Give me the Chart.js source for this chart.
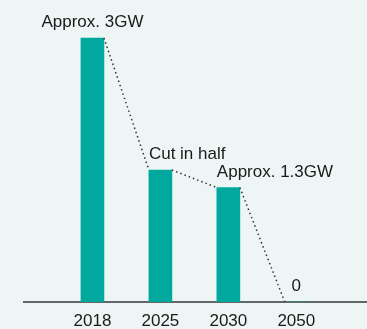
<!DOCTYPE html>
<html>
<head>
<meta charset="utf-8">
<script src="https://cdn.jsdelivr.net/npm/chart.js@4/dist/chart.umd.min.js"></script>
<style>
  html, body { margin: 0; padding: 0; background: #eef6f5; }
  #wrap { width: 367px; height: 329px; }
</style>
</head>
<body>
<div id="wrap"><canvas id="chart"></canvas></div>
<script>
// data
var years = ['2018', '2025', '2030', '2050'];
var capacity = [3, 1.5, 1.3, 0];
var notes = ['Approx. 3GW', 'Cut in half', 'Approx. 1.3GW', '0'];

// how each note sits over its bar
var noteAlign = ['center', 'left', 'left', 'center'];

var points = years.map(function (y, i) { return { x: i, y: capacity[i] }; });

// dotted line from the right corner of one bar to the left corner of the next
var dottedLink = {
    id: 'dottedLink',
    afterDatasetsDraw: function (chart) {
        var bars = chart.getDatasetMeta(0).data;
        var ctx = chart.ctx;
        ctx.save();
        ctx.strokeStyle = '#333';
        ctx.lineWidth = 1.5;
        ctx.setLineDash([1.5, 3]);
        for (var i = 0; i < bars.length - 1; i++) {
            var a = bars[i], b = bars[i + 1];
            ctx.beginPath();
            ctx.moveTo(a.x + a.width / 2, a.y);
            ctx.lineTo(b.x - b.width / 2, b.y);
            ctx.stroke();
        }
        ctx.restore();
    }
};

var barNotes = {
    id: 'barNotes',
    afterDraw: function (chart) {
        var bars = chart.getDatasetMeta(0).data;
        var ctx = chart.ctx;
        ctx.save();
        ctx.fillStyle = '#1a1a1a';
        ctx.font = '17px "Liberation Sans", Arial, sans-serif';
        ctx.textBaseline = 'alphabetic';
        bars.forEach(function (bar, i) {
            ctx.textAlign = noteAlign[i];
            var x = noteAlign[i] === 'left' ? bar.x - bar.width / 2 : bar.x;
            ctx.fillText(notes[i], x, bar.y - 11);
        });
        ctx.restore();
    }
};

var bgFill = {
    id: 'bgFill',
    beforeDraw: function (chart) {
        var ctx = chart.ctx;
        ctx.save();
        ctx.fillStyle = '#eef6f5';
        ctx.fillRect(0, 0, chart.width, chart.height);
        ctx.restore();
    }
};

var ctx = document.getElementById('chart').getContext('2d');
var chart = new Chart(ctx, {
    type: 'bar',
    data: {
        datasets: [{
            data: points,
            backgroundColor: '#00a89e',
            borderWidth: 0,
            barThickness: 23
        }]
    },
    options: {
        responsive: true,
        maintainAspectRatio: false,
        animation: false,
        layout: { padding: { left: 24, right: 0, top: 0, bottom: 0 } },
        plugins: {
            legend: { display: false },
            tooltip: { enabled: false }
        },
        scales: {
            x: {
                type: 'linear',
                offset: false,
                min: -1.007,
                max: 4.04,
                z: 1,
                // tick marks are hidden; tickLength only pushes the year labels down
                grid: { display: false, drawTicks: true, tickLength: 9 },
                border: { display: true, color: 'rgba(0,0,0,0.58)', width: 2 },
                afterFit: function (scale) { scale.height = 27; },
                ticks: {
                    stepSize: 1,
                    padding: 0,
                    color: '#1a1a1a',
                    font: { size: 17, family: '"Liberation Sans", Arial, sans-serif' },
                    maxRotation: 0,
                    autoSkip: false,
                    callback: function (v) {
                        return Number.isInteger(v) && years[v] ? years[v] : '';
                    }
                }
            },
            y: {
                display: false,
                min: 0,
                max: 3.432
            }
        }
    },
    plugins: [bgFill, dottedLink, barNotes]
});
</script>
</body>
</html>
